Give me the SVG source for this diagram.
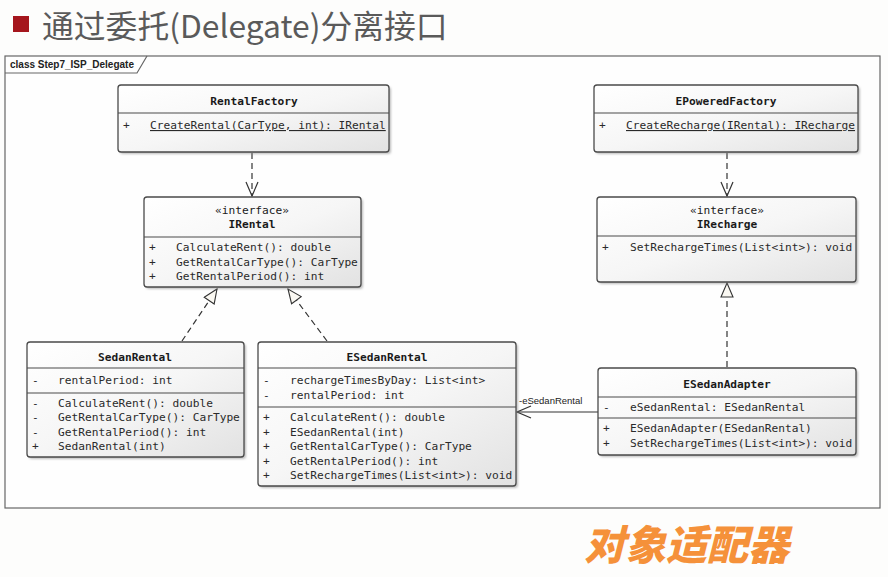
<svg xmlns="http://www.w3.org/2000/svg" width="888" height="577" viewBox="0 0 888 577">
<defs>
<linearGradient id="g" x1="0" y1="0" x2="1" y2="1">
<stop offset="0" stop-color="#ffffff"/>
<stop offset="0.5" stop-color="#f6f6f6"/>
<stop offset="1" stop-color="#e2e2e2"/>
</linearGradient>
<filter id="sh" x="-5%" y="-5%" width="115%" height="120%">
<feGaussianBlur stdDeviation="1.2"/>
</filter>
<marker id="open" viewBox="0 0 16 16" refX="15" refY="8" markerWidth="16" markerHeight="16" markerUnits="userSpaceOnUse" orient="auto">
<path d="M1,2 L15,8 L1,14" fill="none" stroke="#333" stroke-width="1.2"/>
</marker>
<marker id="tri" viewBox="0 0 16 14" refX="15" refY="7" markerWidth="16" markerHeight="14" markerUnits="userSpaceOnUse" orient="auto">
<path d="M1,1 L15,7 L1,13 Z" fill="#faf8f2" stroke="#333" stroke-width="1.1"/>
</marker>
</defs>
<style>
.box{fill:url(#g);stroke:#4a4a4a;stroke-width:1.3}
.shd{fill:#888;opacity:0.55;filter:url(#sh)}
.sep{stroke:#4a4a4a;stroke-width:1.2}
.t{font-family:"DejaVu Sans Mono","Liberation Mono",monospace;font-size:11.2px;fill:#2a2a2a}
.h{font-family:"DejaVu Sans Mono","Liberation Mono",monospace;font-size:11.2px;font-weight:bold;fill:#1a1a1a;text-anchor:middle}
.s{font-family:"DejaVu Sans Mono","Liberation Mono",monospace;font-size:11.2px;fill:#1a1a1a;text-anchor:middle}
.u{text-decoration:underline}
.dash{fill:none;stroke:#333;stroke-width:1.2;stroke-dasharray:6,4}
.sol{fill:none;stroke:#333;stroke-width:1.2}
</style>
<rect width="888" height="577" fill="#fdfdfc"/>
<g id="title">
<rect x="13" y="16" width="16" height="16" fill="#a5161d"/>
<text x="42" y="38" font-family="'Noto Sans CJK SC','Noto Sans',sans-serif" font-size="31.8" fill="#5a5a5a">通过委托(Delegate)分离接口</text>
</g>
<g id="frame">
<rect x="5" y="56" width="875" height="452" fill="#fefefe" stroke="#666" stroke-width="1.2"/>
<path d="M5,73 L137,73 L147,56" fill="none" stroke="#666" stroke-width="1.2"/>
<text x="10" y="68" font-family="'Liberation Sans',Arial,sans-serif" font-size="10" font-weight="bold" fill="#222">class Step7_ISP_Delegate</text>
</g>
<g id="connectors">
<line class="dash" x1="252" y1="153" x2="252" y2="196" marker-end="url(#open)"/>
<line class="dash" x1="727" y1="153" x2="727" y2="196" marker-end="url(#open)"/>
<line class="dash" x1="182" y1="341" x2="217" y2="289" marker-end="url(#tri)"/>
<line class="dash" x1="327" y1="341" x2="288" y2="289" marker-end="url(#tri)"/>
<line class="dash" x1="727" y1="367" x2="727" y2="283" marker-end="url(#tri)"/>
<line class="sol" x1="598" y1="412" x2="517" y2="412" marker-end="url(#open)"/>
<text x="519" y="404" font-family="'Liberation Sans',Arial,sans-serif" font-size="9.5" fill="#222">-eSedanRental</text>
</g>
<g id="RentalFactory">
<rect class="shd" x="120" y="87" width="271" height="67" rx="3"/>
<rect class="box" x="118" y="85" width="271" height="67" rx="3"/>
<line class="sep" x1="118" y1="113" x2="389" y2="113"/>
<text class="h" x="254" y="105">RentalFactory</text>
<text class="t" x="123" y="129">+</text>
<text class="t u" x="150" y="129">CreateRental(CarType, int): IRental</text>
</g>
<g id="IRental">
<rect class="shd" x="146" y="199" width="217" height="90" rx="3"/>
<rect class="box" x="144" y="197" width="217" height="90" rx="3"/>
<line class="sep" x1="144" y1="237" x2="361" y2="237"/>
<text class="s" x="252" y="214">«interface»</text>
<text class="h" x="252" y="228">IRental</text>
<text class="t" x="149" y="251">+</text>
<text class="t" x="176" y="251">CalculateRent(): double</text>
<text class="t" x="149" y="266">+</text>
<text class="t" x="176" y="266">GetRentalCarType(): CarType</text>
<text class="t" x="149" y="280">+</text>
<text class="t" x="176" y="280">GetRentalPeriod(): int</text>
</g>
<g id="EPoweredFactory">
<rect class="shd" x="596" y="87" width="264" height="67" rx="3"/>
<rect class="box" x="594" y="85" width="264" height="67" rx="3"/>
<line class="sep" x1="594" y1="113" x2="858" y2="113"/>
<text class="h" x="726" y="105">EPoweredFactory</text>
<text class="t" x="599" y="129">+</text>
<text class="t u" x="626" y="129">CreateRecharge(IRental): IRecharge</text>
</g>
<g id="IRecharge">
<rect class="shd" x="599" y="199" width="259" height="85" rx="3"/>
<rect class="box" x="597" y="197" width="259" height="85" rx="3"/>
<line class="sep" x1="597" y1="236" x2="856" y2="236"/>
<text class="s" x="727" y="214">«interface»</text>
<text class="h" x="727" y="228">IRecharge</text>
<text class="t" x="602" y="251">+</text>
<text class="t" x="630" y="251">SetRechargeTimes(List&lt;int&gt;): void</text>
</g>
<g id="SedanRental">
<rect class="shd" x="29" y="344" width="217" height="115" rx="3"/>
<rect class="box" x="27" y="342" width="217" height="115" rx="3"/>
<line class="sep" x1="27" y1="368" x2="244" y2="368"/>
<line class="sep" x1="27" y1="393" x2="244" y2="393"/>
<text class="h" x="135" y="361">SedanRental</text>
<text class="t" x="32" y="384">-</text>
<text class="t" x="58" y="384">rentalPeriod: int</text>
<text class="t" x="32" y="407">-</text>
<text class="t" x="58" y="407">CalculateRent(): double</text>
<text class="t" x="32" y="421">-</text>
<text class="t" x="58" y="421">GetRentalCarType(): CarType</text>
<text class="t" x="32" y="436">-</text>
<text class="t" x="58" y="436">GetRentalPeriod(): int</text>
<text class="t" x="32" y="450">+</text>
<text class="t" x="58" y="450">SedanRental(int)</text>
</g>
<g id="ESedanRental">
<rect class="shd" x="260" y="344" width="258" height="144" rx="3"/>
<rect class="box" x="258" y="342" width="258" height="144" rx="3"/>
<line class="sep" x1="258" y1="368" x2="516" y2="368"/>
<line class="sep" x1="258" y1="407" x2="516" y2="407"/>
<text class="h" x="387" y="361">ESedanRental</text>
<text class="t" x="263" y="384">-</text>
<text class="t" x="290" y="384">rechargeTimesByDay: List&lt;int&gt;</text>
<text class="t" x="263" y="399">-</text>
<text class="t" x="290" y="399">rentalPeriod: int</text>
<text class="t" x="263" y="421">+</text>
<text class="t" x="290" y="421">CalculateRent(): double</text>
<text class="t" x="263" y="436">+</text>
<text class="t" x="290" y="436">ESedanRental(int)</text>
<text class="t" x="263" y="450">+</text>
<text class="t" x="290" y="450">GetRentalCarType(): CarType</text>
<text class="t" x="263" y="465">+</text>
<text class="t" x="290" y="465">GetRentalPeriod(): int</text>
<text class="t" x="263" y="479">+</text>
<text class="t" x="290" y="479">SetRechargeTimes(List&lt;int&gt;): void</text>
</g>
<g id="ESedanAdapter">
<rect class="shd" x="600" y="370" width="258" height="87" rx="3"/>
<rect class="box" x="598" y="368" width="258" height="87" rx="3"/>
<line class="sep" x1="598" y1="397" x2="856" y2="397"/>
<line class="sep" x1="598" y1="418" x2="856" y2="418"/>
<text class="h" x="727" y="388">ESedanAdapter</text>
<text class="t" x="603" y="411">-</text>
<text class="t" x="630" y="411">eSedanRental: ESedanRental</text>
<text class="t" x="603" y="432">+</text>
<text class="t" x="630" y="432">ESedanAdapter(ESedanRental)</text>
<text class="t" x="603" y="447">+</text>
<text class="t" x="630" y="447">SetRechargeTimes(List&lt;int&gt;): void</text>
</g>
<g id="caption">
<text x="584" y="560" font-family="'Noto Sans CJK SC',sans-serif" font-size="41" font-weight="900" font-style="italic" fill="#f5913a">对象适配器</text>
</g>
</svg>
